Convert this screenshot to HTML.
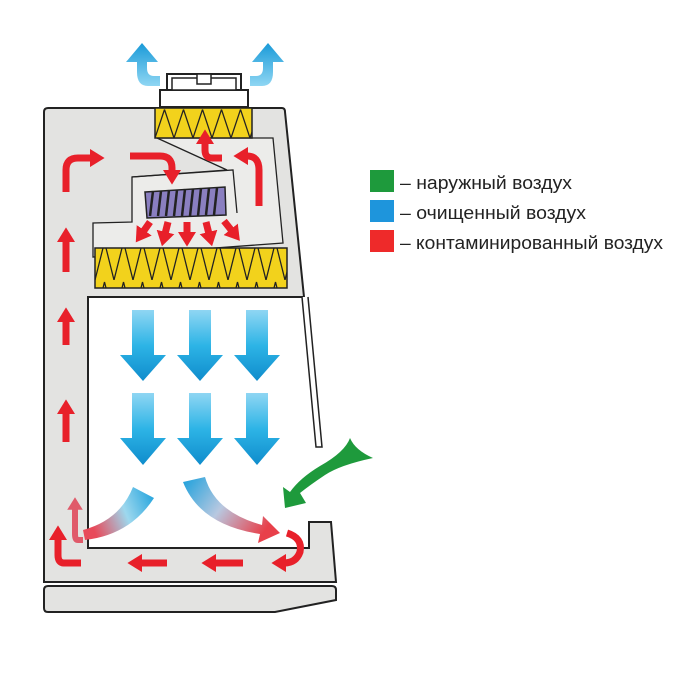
<!DOCTYPE html>
<html><head><meta charset="utf-8"><style>
html,body{margin:0;padding:0;background:#fff;width:700px;height:700px;overflow:hidden}
svg{display:block}
text{font-family:"Liberation Sans",sans-serif;font-size:18px;fill:#222}
</style></head><body>
<svg width="700" height="700" viewBox="0 0 700 700" xmlns="http://www.w3.org/2000/svg">
<defs>
<linearGradient id="bl" x1="0" y1="0" x2="0" y2="1"><stop offset="0" stop-color="#8fd6f3"/><stop offset="0.5" stop-color="#2db4e6"/><stop offset="1" stop-color="#0f8ccc"/></linearGradient>
<linearGradient id="br1" x1="1" y1="0" x2="0" y2="0.3"><stop offset="0" stop-color="#1aa0dc"/><stop offset="0.5" stop-color="#9dd8ee"/><stop offset="1" stop-color="#e84a5a"/></linearGradient>
<linearGradient id="br2" x1="0" y1="0" x2="1" y2="0.5"><stop offset="0" stop-color="#1aa0dc"/><stop offset="0.5" stop-color="#b8c8e0"/><stop offset="1" stop-color="#e8404a"/></linearGradient>
<linearGradient id="ex" x1="0" y1="1" x2="0" y2="0"><stop offset="0" stop-color="#8fd6f3"/><stop offset="1" stop-color="#1a9ad8"/></linearGradient>
<marker id="ah" markerWidth="2.2" markerHeight="2.6" refX="0.3" refY="1.3" orient="auto" markerUnits="strokeWidth"><path d="M0,0 L2.1,1.3 L0,2.6 Z" fill="#e8202a"/></marker>
<marker id="ahp" markerWidth="2.2" markerHeight="2.6" refX="0.3" refY="1.3" orient="auto" markerUnits="strokeWidth"><path d="M0,0 L2.1,1.3 L0,2.6 Z" fill="#e05a6a"/></marker>
<pattern id="zz" width="19" height="40" patternUnits="userSpaceOnUse"><path d="M0,40 L9.5,2 L19,40" fill="none" stroke="#222" stroke-width="1.3"/></pattern>
</defs>
<!-- cabinet body (work area cut out) -->
<path d="M44,112 Q44,108 48,108 L282,108 Q285,108 285,112 L304,297 L88,297 L88,548 L309,548 L309,522 L331,522 L336,582 L44,582 Z" fill="#e3e3e1" stroke="#222" stroke-width="2"/>
<!-- sash -->
<path d="M302,297 L316,447 L322,447 L308,297" fill="#fff" stroke="#222" stroke-width="1.5"/>
<!-- base -->
<path d="M48,586 L332,586 Q336,586 336,590 L336,600 L275,612 L48,612 Q44,612 44,608 L44,590 Q44,586 48,586 Z" fill="#e3e3e1" stroke="#222" stroke-width="2"/>
<!-- plenum inner -->
<path d="M157,138 L273,138 L283,243 L93,257 L93,223 L132,222 L132,177 L227,170 Z" fill="#ececea" stroke="#222" stroke-width="1.3"/>
<path d="M132,177 L233,170 L237,213" fill="none" stroke="#222" stroke-width="1.3"/>
<!-- fan -->
<path d="M145,192 L225,187 L226,215 L147,218 Z" fill="#8a7fc0" stroke="#222" stroke-width="1.5"/>
<g stroke="#222" stroke-width="2.5">
<line x1="153" y1="191" x2="150" y2="216"/><line x1="161" y1="191" x2="158" y2="216"/><line x1="169" y1="190" x2="166" y2="216"/><line x1="177" y1="190" x2="174" y2="216"/><line x1="185" y1="189" x2="182" y2="216"/><line x1="193" y1="189" x2="190" y2="216"/><line x1="201" y1="188" x2="198" y2="216"/><line x1="209" y1="188" x2="206" y2="215"/><line x1="217" y1="188" x2="214" y2="215"/>
</g>
<!-- HEPA filters -->
<rect x="95" y="248" width="192" height="40" fill="#f2d21c" stroke="#222" stroke-width="1.5"/>
<rect x="95" y="248" width="192" height="40" fill="url(#zz)"/>
<rect x="155" y="108" width="97" height="30" fill="#f2d21c" stroke="#222" stroke-width="1.5"/>
<g transform="translate(155,108) scale(1,0.75)"><rect width="97" height="40" fill="url(#zz)"/></g>
<!-- exhaust housing -->
<rect x="160" y="90" width="88" height="17" fill="#fff" stroke="#222" stroke-width="2"/>
<rect x="167" y="74" width="74" height="16" fill="#fff" stroke="#222" stroke-width="2"/>
<rect x="172" y="78" width="64" height="12" fill="#fff" stroke="#222" stroke-width="1.5"/>
<rect x="197" y="74" width="14" height="10" fill="#fff" stroke="#222" stroke-width="1.5"/>
<!-- exhaust blue arrows -->
<path d="M160,86 L148,86 Q137,86 137,72 L137,62 L126,62 L142,43 L158,62 L147,62 L147,68 Q147,76 154,76 L160,76 Z" fill="url(#ex)"/>
<path d="M250,86 L262,86 Q273,86 273,72 L273,62 L284,62 L268,43 L252,62 L263,62 L263,68 Q263,76 256,76 L250,76 Z" fill="url(#ex)"/>
<!-- red arrows -->
<g fill="none" stroke="#e8202a" stroke-width="7" marker-end="url(#ah)">
<path d="M66,192 L66,170 Q66,158 78,158 L92,158"/>
<path d="M130,156 L160,156 Q172,156 172,168 L172,172"/>
<path d="M222,158 L212,158 Q205,158 205,150 L205,142"/>
<path d="M259,206 L259,170 Q259,156 247,156 L246,156"/>
<path d="M66,272 L66,240"/>
<path d="M66,345 L66,320"/>
<path d="M66,442 L66,412"/>
<path d="M81,563 L64,563 Q58,563 58,555 L58,538"/>
<path d="M167,563 L140,563"/>
<path d="M243,563 L214,563"/>
<path d="M287,533 Q303,538 300,552 Q296,563 284,563"/>
<path d="M150,222 L143,232"/><path d="M168,222 L165,234"/><path d="M187,222 L187,234"/><path d="M206,222 L209,234"/><path d="M224,221 L232,231"/>
</g>
<path d="M83,540 L78,540 Q75,540 75,534 L75,508" fill="none" stroke="#e05a6a" stroke-width="6" marker-end="url(#ahp)"/>
<!-- blue down arrows -->
<g fill="url(#bl)">
<path d="M132,310 h22 v45 h12 l-23,26 l-23,-26 h12 Z"/>
<path d="M189,310 h22 v45 h12 l-23,26 l-23,-26 h12 Z"/>
<path d="M246,310 h22 v45 h12 l-23,26 l-23,-26 h12 Z"/>
<path d="M132,393 h22 v45 h12 l-23,27 l-23,-27 h12 Z"/>
<path d="M189,393 h22 v45 h12 l-23,27 l-23,-27 h12 Z"/>
<path d="M246,393 h22 v45 h12 l-23,27 l-23,-27 h12 Z"/>
</g>
<!-- curved mixed arrows -->
<path d="M133,487 L154,498 Q130,535 85,540 L83,530 Q120,520 133,487 Z" fill="url(#br1)"/>
<path d="M183,482 L205,477 Q215,512 262,525 L263,516 L280,533 L258,543 L260,534 Q200,525 183,482 Z" fill="url(#br2)"/>
<!-- green arrow -->
<path d="M350,438 Q355,450 373,458 Q340,465 325,475 Q310,485 300,493 L306,503 L285,508 L283,487 L290,492 Q300,478 320,466 Q345,452 350,438 Z" fill="#1e9a3c"/>
<!-- legend -->
<rect x="370" y="170" width="24" height="22" fill="#1e9a3c"/>
<rect x="370" y="200" width="24" height="22" fill="#1e95dc"/>
<rect x="370" y="230" width="24" height="22" fill="#ee2a2a"/>
<text x="400" y="189" textLength="172" lengthAdjust="spacingAndGlyphs">– наружный воздух</text>
<text x="400" y="219" textLength="186" lengthAdjust="spacingAndGlyphs">– очищенный воздух</text>
<text x="400" y="249" textLength="263" lengthAdjust="spacingAndGlyphs">– контаминированный воздух</text>
</svg>
</body></html>
